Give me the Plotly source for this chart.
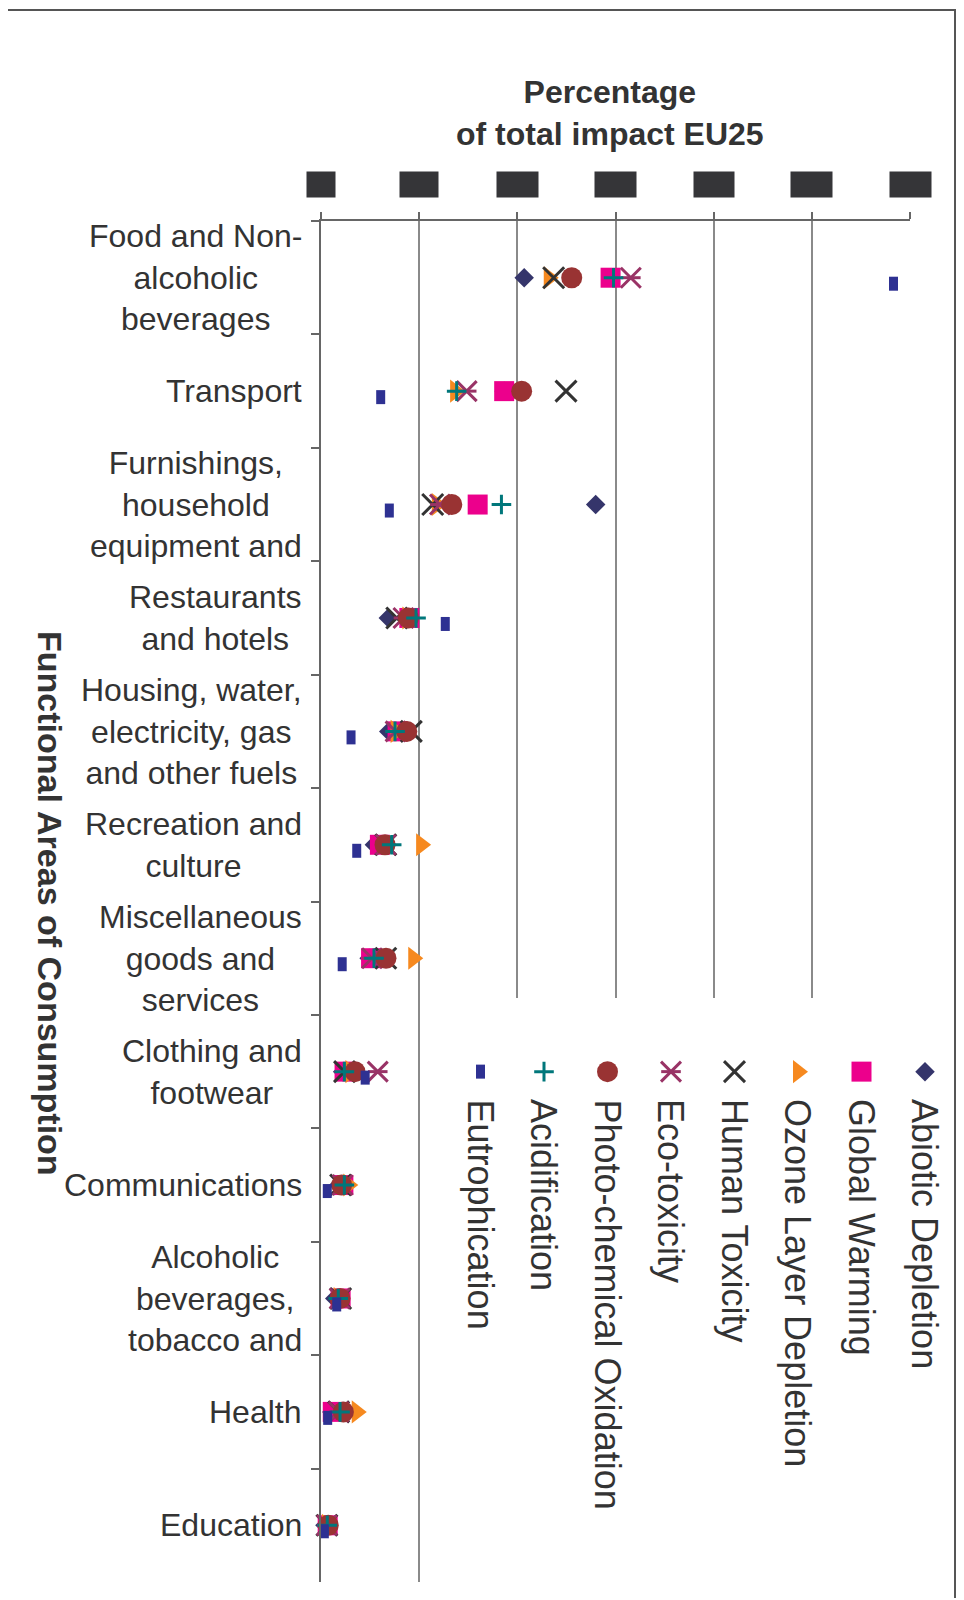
import plotly.graph_objects as go

categories = ["Food and Non-alcoholic beverages", "Transport", "Furnishings, household equipment and",
              "Restaurants and hotels", "Housing, water, electricity, gas and other fuels",
              "Recreation and culture", "Miscellaneous goods and services", "Clothing and footwear",
              "Communications", "Alcoholic beverages, tobacco and", "Health", "Education"]
category_labels = ["Food and Non-<br>alcoholic<br>beverages", "Transport", "Furnishings,<br>household<br>equipment and",
                   "Restaurants<br>and hotels", "Housing, water,<br>electricity, gas<br>and other fuels",
                   "Recreation and<br>culture", "Miscellaneous<br>goods and<br>services", "Clothing and<br>footwear",
                   "Communications", "Alcoholic<br>beverages,<br>tobacco and", "Health", "Education"]

series_names = ["Abiotic Depletion", "Global Warming", "Ozone Layer Depletion", "Human Toxicity",
                "Eco-toxicity", "Photo-chemical Oxidation", "Acidification", "Eutrophication"]

# % of total EU25 impact, one value per category (top to bottom)
abiotic = [10.35, 9.33, 13.99, 3.43, 3.45, 2.72, 2.45, 1.1, 0.9, 0.7, 0.55, 0.2]
global_warming = [14.75, 9.33, 7.98, 4.5, 3.9, 3.0, 2.55, 1.2, 1.14, 1.0, 0.6, 0.34]
ozone = [11.6, 6.83, 5.9, 4.4, 3.8, 5.1, 4.7, 1.5, 1.39, 0.9, 1.82, 0.3]
human_tox = [11.85, 12.48, 5.69, 3.86, 4.6, 3.3, 3.3, 1.2, 1.0, 1.0, 0.9, 0.3]
eco_tox = [15.78, 7.42, 6.06, 4.2, 3.8, 3.3, 2.6, 2.89, 1.1, 0.95, 0.9, 0.3]
photo_ox = [12.77, 10.22, 6.66, 4.45, 4.37, 3.26, 3.31, 1.73, 1.05, 0.97, 1.14, 0.37]
acidification = [14.9, 6.91, 9.19, 4.84, 3.77, 3.6, 2.7, 1.19, 1.19, 0.88, 0.97, 0.32]
eutrophication = [29.16, 3.04, 3.48, 6.33, 1.53, 1.82, 1.08, 2.25, 0.32, 0.8, 0.34, 0.17]

tick_values = [0, 5, 10, 15, 20, 25, 30]
tick_labels = ["0%", "5%", "10%", "15%", "20%", "25%", "30%"]

values = [abiotic, global_warming, ozone, human_tox, eco_tox, photo_ox, acidification, eutrophication]
colors = ["#35356b", "#ec008c", "#f6891f", "#333333", "#993366", "#993333", "#00777b", "#2e3192"]
symbols = ["diamond", "square", "triangle-right", "x-thin", "x-thin", "circle", "cross-thin", "line-ns"]
sizes = [15, 20, 20, 21, 20, 21, 14, 10]
line_widths = [0, 0, 0, 3, 3, 0, 3, 9]

FONT = "Liberation Sans, Arial, sans-serif"
TXT = "#333333"
OFF = 8  # page body margin
W, H = 964 - OFF, 1600 - OFF
L, T = 321 - OFF, 221 - OFF
R, B = W - (954 - OFF), H - (1582 - OFF)
PW, PH = W - L - R, H - T - B
X_END = (910 - 321) / PW  # main x axis ends at 910px


def px_x(p):
    return (p - OFF - L) / PW


def px_y(p):
    return (H - B - (p - OFF)) / PH


def marker(i):
    return dict(symbol=symbols[i], size=sizes[i], color=colors[i],
                line=dict(color=colors[i], width=line_widths[i]))


fig = go.Figure()

for i, name in enumerate(series_names):
    fig.add_trace(go.Scatter(x=values[i], y=categories, mode="markers", name=name,
                             marker=marker(i), showlegend=False, cliponaxis=False,
                             yaxis="y3" if name == "Eutrophication" else "y"))
    if name == "Eco-toxicity":
        fig.add_trace(go.Scatter(x=values[i], y=categories, mode="markers", showlegend=False,
                                 cliponaxis=False,
                                 marker=dict(symbol="line-ew", size=14,
                                             line=dict(color=colors[i], width=3))))

# hand-made rotated legend
legend_x = [px_x(480.5 + 63.5 * (len(series_names) - 1 - i)) for i in range(len(series_names))]
for i, name in enumerate(series_names):
    fig.add_trace(go.Scatter(x=[legend_x[i]], y=[0], mode="markers", xaxis="x2", yaxis="y2",
                             marker=marker(i), showlegend=False, cliponaxis=False))
    if name == "Eco-toxicity":
        fig.add_trace(go.Scatter(x=[legend_x[i]], y=[0], mode="markers", xaxis="x2", yaxis="y2",
                                 showlegend=False, cliponaxis=False,
                                 marker=dict(symbol="line-ew", size=14,
                                             line=dict(color=colors[i], width=3))))
    fig.add_annotation(text=name, xref="paper", yref="paper", x=legend_x[i], y=px_y(1097),
                       xanchor="center", yanchor="top", textangle=90, showarrow=False,
                       font=dict(family=FONT, size=36, color=TXT))

# category labels
for cat, lab in zip(categories, category_labels):
    fig.add_annotation(text=lab, xref="paper", yref="y", x=px_x(304), y=cat,
                       xanchor="right", align="center", showarrow=False,
                       font=dict(family=FONT, size=32, color=TXT))

# tick labels (rendered as dark blocks like the source)
box_w = [26, 36, 39, 39, 38, 39, 39]
for v, lab, bw in zip(tick_values, tick_labels, box_w):
    fig.add_annotation(text=lab, xref="x", yref="paper", x=v, y=px_y(185),
                       xanchor="center", yanchor="middle", showarrow=False,
                       width=bw, height=23, bgcolor="#353538",
                       font=dict(family=FONT, size=14, color="#353538"))

fig.add_annotation(text="<b>Percentage<br>of total impact EU25</b>", xref="paper", yref="paper",
                   x=px_x(610), y=px_y(113), xanchor="center", yanchor="middle", showarrow=False,
                   align="center", font=dict(family=FONT, size=32, color=TXT))
fig.add_annotation(text="<b>Functional Areas of Consumption</b>", xref="paper", yref="paper",
                   x=px_x(50), y=px_y(903), xanchor="center", yanchor="middle", showarrow=False,
                   textangle=90, font=dict(family=FONT, size=34, color=TXT))

# white legend area hiding the grid
fig.add_shape(type="rect", xref="x", yref="y", x0=(449 - 321) / 589 * 30, x1=32.5,
              y0=(998 - 221) / 1361 * 12 - 0.5, y1=11.6, layer="between",
              fillcolor="white", line=dict(width=0))
# outer frame (top and right edges)
fig.add_shape(type="path", xref="paper", yref="paper",
              path="M {:.4f},{:.4f} L {:.4f},{:.4f} L {:.4f},{:.4f}".format(
                  px_x(0), px_y(10), px_x(955), px_y(10), px_x(955), px_y(1598)),
              line=dict(color="#555555", width=2))

shift = 6 / PH * 12
fig.update_layout(
    width=W, height=H,
    margin=dict(l=L, r=R, t=T, b=B),
    paper_bgcolor="white", plot_bgcolor="rgba(0,0,0,0)",
    showlegend=False,
    font=dict(family=FONT, color=TXT),
    xaxis=dict(domain=[0, X_END], range=[0, 30], side="top", tickvals=tick_values,
               showticklabels=False, showgrid=True, gridcolor="#8a8a8a", gridwidth=1.5,
               zeroline=False, showline=True, linecolor="#666666", linewidth=1.5,
               ticks="outside", ticklen=7, tickcolor="#666666", tickwidth=1.5),
    yaxis=dict(type="category", categoryarray=categories, categoryorder="array",
               range=[11.5, -0.5], showticklabels=False, showgrid=False, zeroline=False,
               showline=True, linecolor="#666666", linewidth=1.5, tickson="boundaries",
               ticks="outside", ticklen=8, tickcolor="#666666", tickwidth=1.5),
    yaxis3=dict(type="category", categoryarray=categories, categoryorder="array",
                range=[11.5 - shift, -0.5 - shift], overlaying="y", anchor="x", visible=False),
    xaxis2=dict(domain=[0, 1], range=[0, 1], anchor="y2", visible=False),
    yaxis2=dict(domain=[0.3, 0.45], range=[-1, 1], anchor="x2", visible=False),
)

fig.write_html("out.html")
